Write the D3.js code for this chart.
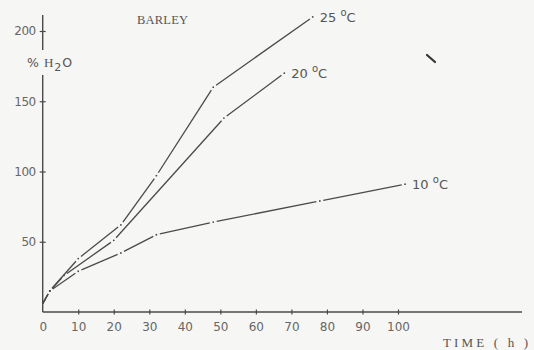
<!DOCTYPE html>
<html><head><meta charset="utf-8">
<script src="https://cdn.jsdelivr.net/npm/d3@7"></script>
<style>
html,body{margin:0;padding:0;background:#f6f6f4;}
svg{display:block;}
</style></head>
<body>
<script>
const hours25 = [0, 2, 10, 22, 32, 48, 76];
const vals25  = [6, 15, 38, 62, 97, 160, 210];
const hours20 = [0, 2, 6, 20, 51, 68];
const vals20  = [6, 15, 26, 51, 138, 170];
const hours10 = [0, 2, 10, 22, 32, 48, 78, 102];
const vals10  = [6, 15, 29, 42, 55, 64, 79, 91];
const seriesLabels = ["25", "20", "10"];
const xTicks = [0,10,20,30,40,50,60,70,80,90,100];
const yTicks = [50,100,150,200];

const W = 534, H = 350;
const svg = d3.select("body").append("svg").attr("width", W).attr("height", H);
svg.append("rect").attr("width", W).attr("height", H).attr("fill", "#f6f6f4");

const x = d3.scaleLinear().domain([0, 100]).range([42.7, 398]);
const y = d3.scaleLinear().domain([0, 200]).range([312, 31]);
const ink = "#4a4a4a";
const numFont = "'DejaVu Sans', sans-serif";
const typeFont = "'Liberation Serif', 'DejaVu Serif', serif";

// X axis
const xAxis = d3.axisBottom(x).tickValues(xTicks).tickSize(3).tickPadding(5).tickFormat(d3.format("d"));
const gx = svg.append("g").attr("transform", `translate(0,${y(0)})`).call(xAxis);
gx.select(".domain").remove();
gx.append("line").attr("x1", x(0)).attr("x2", 522).attr("stroke", ink).attr("stroke-width", 1.4);
gx.selectAll(".tick line").attr("y1", -2.5).attr("y2", 2.5).attr("stroke", ink).attr("stroke-width", 1.2)
  .filter(d => d === 0).remove();
gx.selectAll(".tick text").attr("font-family", numFont).attr("font-size", 12).attr("fill", "#666")
  .attr("dy", "0.9em");

// Y axis
const yAxis = d3.axisLeft(y).tickValues(yTicks).tickSize(3).tickPadding(4).tickFormat(d3.format("d"));
const gy = svg.append("g").attr("transform", `translate(${x(0)},0)`).call(yAxis);
gy.select(".domain").remove();
gy.append("line").attr("y1", 15).attr("y2", 50).attr("stroke", ink).attr("stroke-width", 1.4);
gy.append("line").attr("y1", 75).attr("y2", y(0)).attr("stroke", ink).attr("stroke-width", 1.4);
gy.selectAll(".tick line").attr("x1", -3).attr("x2", 3).attr("stroke", ink).attr("stroke-width", 1.2);
gy.selectAll(".tick text").attr("font-family", numFont).attr("font-size", 12).attr("fill", "#666")
  .attr("letter-spacing", -0.5);

// Y label "% H2O"
const yl = svg.append("text").attr("x", 27).attr("y", 67).attr("font-family", numFont)
  .attr("font-size", 12.5).attr("fill", "#555");
yl.append("tspan").text("%");
yl.append("tspan").attr("dx", 5).attr("font-family", typeFont).attr("font-size", 13).text("H");
yl.append("tspan").attr("dy", 4).attr("dx", 1).attr("font-size", 11).text("2");
yl.append("tspan").attr("dy", -4).attr("dx", 1).text("O");

// Title
svg.append("text").attr("x", 137).attr("y", 24).attr("font-family", typeFont)
  .attr("font-size", 12.5).attr("fill", "#555")
  .attr("textLength", 51).attr("lengthAdjust", "spacing").text("BARLEY");

// X label
svg.append("text").attr("x", 443).attr("y", 347).attr("font-family", typeFont)
  .attr("font-size", 13).attr("fill", "#555")
  .attr("textLength", 85).attr("lengthAdjust", "spacing").attr("xml:space", "preserve").text("TIME ( h )");

// Series drawn as segments with small gaps and dots at data points
const series = [
  {h: hours25, v: vals25, lab: seriesLabels[0]},
  {h: hours20, v: vals20, lab: seriesLabels[1]},
  {h: hours10, v: vals10, lab: seriesLabels[2]}
];
const gap = 3.5;
series.forEach(s => {
  const pts = s.h.map((h, i) => [x(h), y(s.v[i])]);
  const g = svg.append("g");
  for (let i = 0; i < pts.length - 1; i++) {
    const [x1, y1] = pts[i], [x2, y2] = pts[i+1];
    const len = Math.hypot(x2 - x1, y2 - y1);
    const ux = (x2 - x1) / len, uy = (y2 - y1) / len;
    const g1 = i === 0 ? 0 : gap, g2 = gap;
    g.append("line")
      .attr("x1", x1 + ux * g1).attr("y1", y1 + uy * g1)
      .attr("x2", x2 - ux * g2).attr("y2", y2 - uy * g2)
      .attr("stroke", ink).attr("stroke-width", 1.3);
  }
  g.selectAll("circle").data(pts.slice(1)).join("circle")
    .attr("cx", d => d[0]).attr("cy", d => d[1]).attr("r", 0.9).attr("fill", ink);
  // label
  const last = pts[pts.length - 1];
  const t = svg.append("text").attr("x", last[0] + 7).attr("y", last[1] + 5)
    .attr("font-family", numFont).attr("font-size", 13).attr("fill", "#555");
  t.append("tspan").text(s.lab + " ");
  t.append("tspan").attr("dy", -6).attr("font-size", 10).text("o");
  t.append("tspan").attr("dy", 6).text("C");
});

// small smudge mark in the reference
svg.append("path").attr("d", "M427,55 L435,62").attr("stroke", "#333").attr("stroke-width", 2.2)
  .attr("stroke-linecap", "round");
</script>
</body></html>
